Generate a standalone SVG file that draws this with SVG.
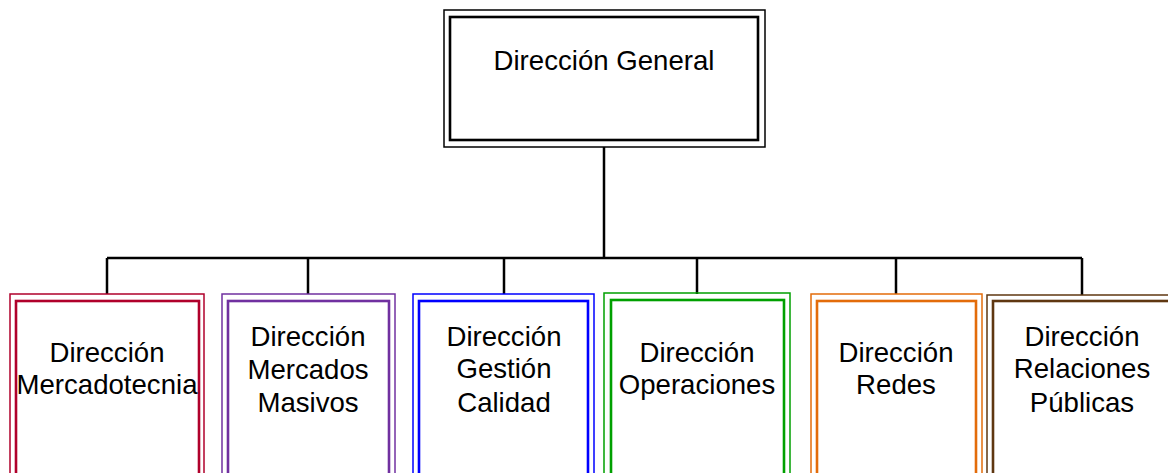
<svg xmlns="http://www.w3.org/2000/svg" width="1168" height="473" viewBox="0 0 1168 473">
<style>
.o{fill:none;stroke-width:1.5}
.i{fill:none;stroke-width:2.6}
.t{font-family:"Liberation Sans",Arial,sans-serif;font-size:27.6px;fill:#000;text-anchor:middle}
.c{fill:none;stroke:#000;stroke-width:2.5}
</style>
<rect width="1168" height="473" fill="#fff"/>
<g id="connectors">
<path class="c" d="M604 147V258M107 258H1082M107 258V294M308 258V294M504 258V294M697 258V294M896 258V294M1082 258V295"/>
</g>
<g id="n0">
<rect class="o" x="444" y="10" width="321" height="137" stroke="#000"/>
<rect class="i" x="450" y="17" width="308" height="123" stroke="#000"/>
<text class="t" x="604" y="70">Dirección General</text>
</g>
<g id="n1" stroke="#B0002B">
<rect class="o" x="10" y="294" width="194" height="190"/>
<rect class="i" x="16" y="301" width="183" height="183"/>
<text class="t" x="107" y="362" stroke="none">Dirección</text>
<text class="t" x="107" y="394" stroke="none">Mercadotecnia</text>
</g>
<g id="n2" stroke="#7030A0">
<rect class="o" x="222" y="294" width="173" height="190"/>
<rect class="i" x="228" y="301" width="161" height="183"/>
<text class="t" x="308" y="346" stroke="none">Dirección</text>
<text class="t" x="308" y="379" stroke="none">Mercados</text>
<text class="t" x="308" y="412" stroke="none">Masivos</text>
</g>
<g id="n3" stroke="#0000FF">
<rect class="o" x="413" y="294" width="181" height="190"/>
<rect class="i" x="419" y="301" width="169" height="183"/>
<text class="t" x="504" y="346" stroke="none">Dirección</text>
<text class="t" x="504" y="378" stroke="none">Gestión</text>
<text class="t" x="504" y="412" stroke="none">Calidad</text>
</g>
<g id="n4" stroke="#00A000">
<rect class="o" x="604" y="293" width="186" height="191"/>
<rect class="i" x="611" y="300" width="173" height="184"/>
<text class="t" x="697" y="362" stroke="none">Dirección</text>
<text class="t" x="697" y="394" stroke="none">Operaciones</text>
</g>
<g id="n5" stroke="#E36C0A">
<rect class="o" x="811" y="294" width="171" height="190"/>
<rect class="i" x="817" y="301" width="159" height="183"/>
<text class="t" x="896" y="362" stroke="none">Dirección</text>
<text class="t" x="896" y="394" stroke="none">Redes</text>
</g>
<g id="n6" stroke="#5F3711">
<rect class="o" x="987" y="295" width="200" height="190"/>
<rect class="i" x="993" y="301" width="190" height="183"/>
<text class="t" x="1082" y="346" stroke="none">Dirección</text>
<text class="t" x="1082" y="378" stroke="none">Relaciones</text>
<text class="t" x="1082" y="412" stroke="none">Públicas</text>
</g>
</svg>
